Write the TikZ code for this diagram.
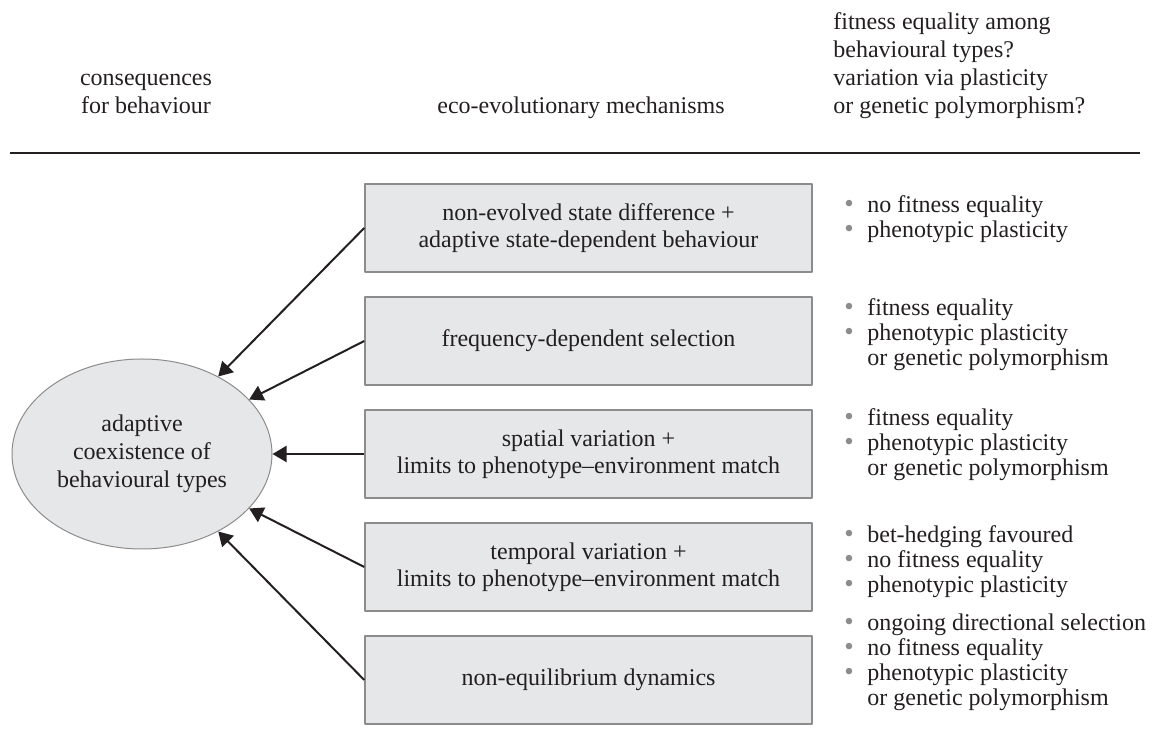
\documentclass[tikz,border=0pt]{standalone}
\usepackage{fontspec}
\setmainfont{Liberation Serif}
\usetikzlibrary{arrows.meta,shapes.geometric}
\definecolor{boxfill}{HTML}{E6E7E8}
\definecolor{boxline}{HTML}{8C8C8C}
\definecolor{inkgray}{HTML}{231F20}
\newcommand{\dotitem}{\makebox[11.5pt][l]{\textcolor{boxline}{\fontsize{13.5}{12.5}\selectfont •}}}
\newcommand{\dotskip}{\hspace*{11.5pt}}
\tikzset{
	mechbox/.style={draw=boxline,line width=0.75pt,fill=boxfill,minimum width=223.5pt,minimum height=44pt,inner sep=0pt,align=center,font=\fontsize{12}{13.5}\selectfont},
	notes/.style={anchor=west,align=left,inner sep=0pt,font=\fontsize{12}{12.5}\selectfont},
	headtext/.style={align=center,inner sep=0pt,font=\fontsize{12}{14}\selectfont}
}
\begin{document}
\begin{tikzpicture}[
	x=0.5pt,y=-0.5pt,
	>={Triangle[length=7pt,width=8pt]},
	line join=round,
	text=inkgray
	]
	\useasboundingbox (0,0) rectangle (1153,742);
	\node[headtext] (hcons) at (146,94) {consequences\\for behaviour};
	\node[headtext] (hmech) at (581,108) {eco-evolutionary mechanisms};
	\node[headtext,anchor=west,align=left] (hfit) at (833,66) {fitness equality among\\behavioural types?\\variation via plasticity\\or genetic polymorphism?};
	\coordinate (rulel) at (10,153);
	\coordinate (ruler) at (1140,153);
	\draw[line width=1pt,inkgray] (rulel) -- (ruler);
	\node[ellipse,draw=boxline,line width=0.5pt,fill=boxfill,minimum width=130pt,minimum height=95pt,inner sep=0pt,align=center,font=\fontsize{12}{14}\selectfont] (adapt) at (142,454) {adaptive\\coexistence of\\behavioural types};
	\node[mechbox] (mech1) at (588.5,228) {non-evolved state difference +\\adaptive state-dependent behaviour};
	\node[mechbox] (mech2) at (588.5,341) {frequency-dependent selection};
	\node[mechbox] (mech3) at (588.5,454) {spatial variation +\\limits to phenotype–environment match};
	\node[mechbox] (mech4) at (588.5,567) {temporal variation +\\limits to phenotype–environment match};
	\node[mechbox] (mech5) at (588.5,680) {non-equilibrium dynamics};
	\node[notes] (fit1) at (844,219.5) {\dotitem no fitness equality\\\dotitem phenotypic plasticity};
	\node[notes] (fit2) at (844,335) {\dotitem fitness equality\\\dotitem phenotypic plasticity\\\dotskip or genetic polymorphism};
	\node[notes] (fit3) at (844,445) {\dotitem fitness equality\\\dotitem phenotypic plasticity\\\dotskip or genetic polymorphism};
	\node[notes] (fit4) at (844,562) {\dotitem bet-hedging favoured\\\dotitem no fitness equality\\\dotitem phenotypic plasticity};
	\node[notes] (fit5) at (844,662) {\dotitem ongoing directional selection\\\dotitem no fitness equality\\\dotitem phenotypic plasticity\\\dotskip or genetic polymorphism};
	\begin{scope}[->,line width=1pt,inkgray]
		\draw (mech1.west) -- (adapt);
		\draw (mech2.west) -- (adapt);
		\draw (mech3.west) -- (adapt);
		\draw (mech4.west) -- (adapt);
		\draw (mech5.west) -- (adapt);
	\end{scope}
\end{tikzpicture}
\end{document}
